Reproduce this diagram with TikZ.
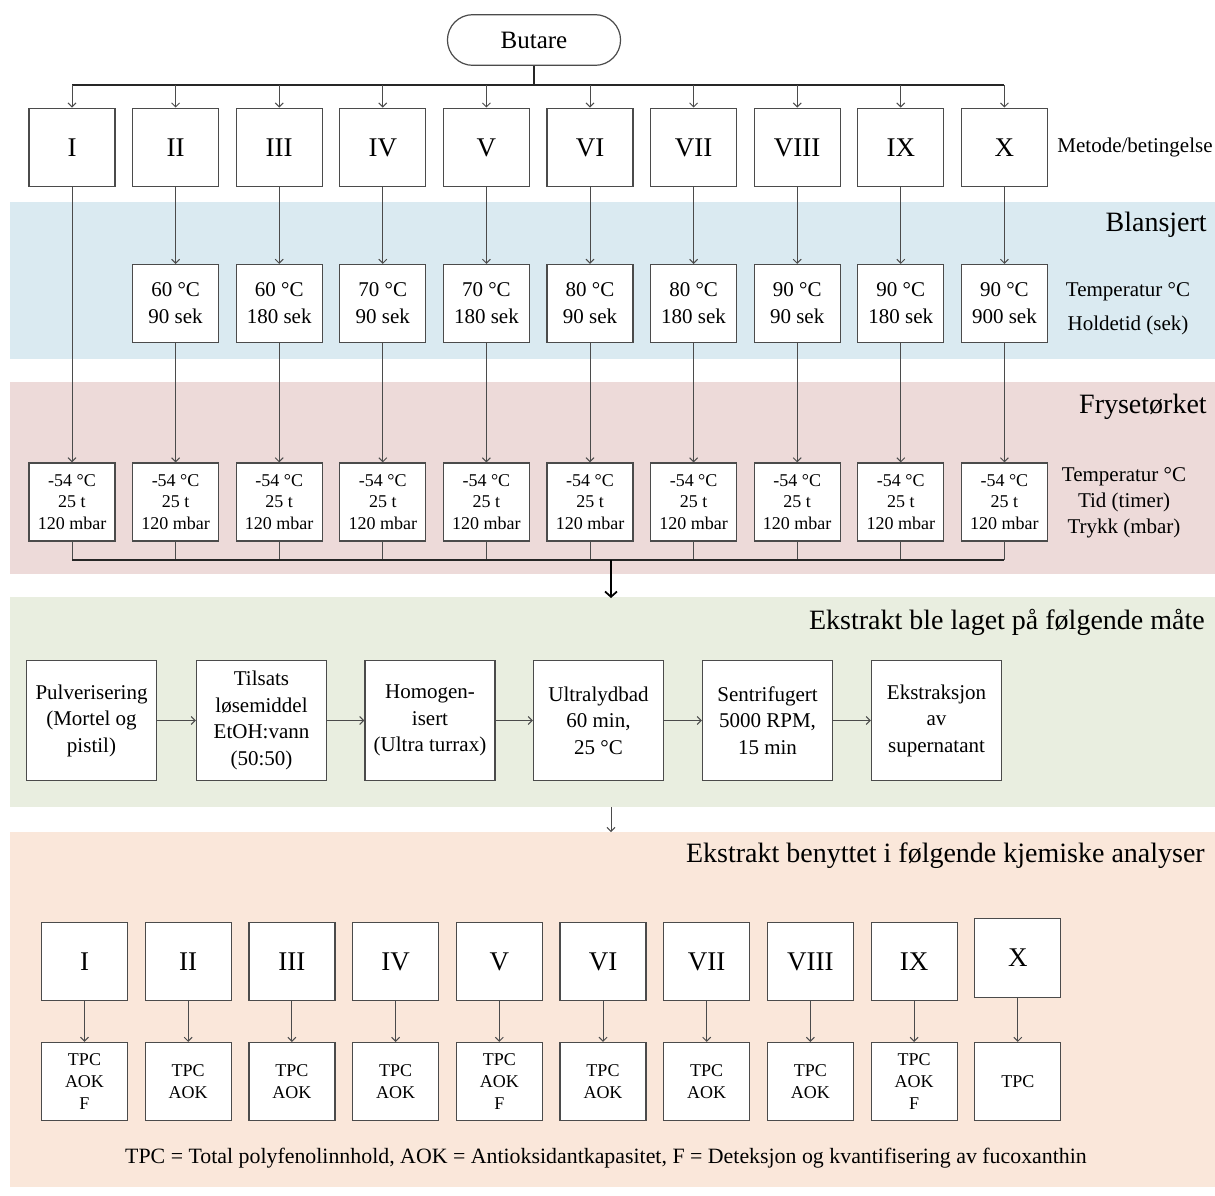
\documentclass[tikz,border=0pt]{standalone}
\usepackage{fontspec}
\setmainfont{Liberation Serif}
\usetikzlibrary{arrows.meta,shapes.misc}
\definecolor{lineg}{RGB}{75,75,75}
\definecolor{blueband}{RGB}{218,234,241}
\definecolor{pinkband}{RGB}{237,218,217}
\definecolor{greenband}{RGB}{233,238,224}
\definecolor{peachband}{RGB}{250,231,218}
\tikzset{
  bigbox/.style={draw=lineg, fill=white, line width=0.9pt, minimum width=64.5pt, minimum height=59pt, inner sep=0pt, align=center, font=\fontsize{20.25}{24}\selectfont},
  blbox/.style={draw=lineg, fill=white, line width=0.9pt, minimum width=64.5pt, minimum height=58.5pt, inner sep=0pt, align=center, font=\fontsize{15.75}{20.25}\selectfont},
  frbox/.style={draw=lineg, fill=white, line width=0.9pt, minimum width=64.5pt, minimum height=58.5pt, inner sep=0pt, align=center, font=\fontsize{13.5}{16.1}\selectfont},
  prbox/.style={draw=lineg, fill=white, line width=0.9pt, minimum width=97.5pt, minimum height=90.5pt, inner sep=0pt, align=center, font=\fontsize{15.75}{19.9}\selectfont},
  anbox/.style={draw=lineg, fill=white, line width=0.9pt, minimum width=64.5pt, minimum height=58.5pt, inner sep=0pt, align=center, font=\fontsize{13.5}{16.5}\selectfont},
  sectitle/.style={anchor=east, inner sep=0pt, font=\fontsize{21}{25}\selectfont},
  sidelab/.style={align=center, inner sep=0pt, font=\fontsize{15.75}{19.5}\selectfont},
  arr/.style={draw=lineg, line width=0.75pt, -{Straight Barb[length=3pt,width=6pt]}},
  conn/.style={draw=lineg, line width=0.75pt},
  bus/.style={draw=black!85, line width=1.1pt},
}
\begin{document}
\begin{tikzpicture}[x=0.75pt,y=-0.75pt]
\useasboundingbox (0,0) rectangle (1215,1196);
\fill[white] (0,0) rectangle (1215,1196);
% bands
\fill[blueband] (10,202) rectangle (1215,359);
\fill[pinkband] (10,382) rectangle (1215,574);
\fill[greenband] (10,597) rectangle (1215,807);
\fill[peachband] (10,832) rectangle (1215,1187);

% Butare
\node[draw=lineg, line width=0.9pt, rounded rectangle, minimum width=136.5pt, minimum height=38pt, font=\fontsize{18.75}{22}\selectfont] (but) at (534,40) {Butare};

% top boxes
\foreach \i/\r in {1/I,2/II,3/III,4/IV,5/V,6/VI,7/VII,8/VIII,9/IX,10/X}{
  \node[bigbox] (m\i) at ({72+103.6*(\i-1)},147.5) {\r};
}
\node[sidelab, font=\fontsize{15.75}{19}\selectfont] (metl) at (1135,147) {Metode/betingelse};

% blanch boxes
\foreach \i/\t/\s in {2/60/90,3/60/180,4/70/90,5/70/180,6/80/90,7/80/180,8/90/90,9/90/180,10/90/900}{
  \node[blbox] (b\i) at ({72+103.6*(\i-1)},303.5) {\t\ °C\\\s\ sek};
}
\node[sectitle] (blt) at (1207,225) {Blansjert};
\node[sidelab] (bll) at (1128,309) {Temperatur °C\\[6pt]Holdetid (sek)};

% freeze boxes
\foreach \i in {1,...,10}{
  \node[frbox] (f\i) at ({72+103.6*(\i-1)},502) {-54 °C\\25 t\\120 mbar};
}
\node[sectitle] (frt) at (1207,407) {Frysetørket};
\node[sidelab, font=\fontsize{15.75}{19.5}\selectfont] (frl) at (1124,503) {Temperatur °C\\Tid (timer)\\Trykk (mbar)};

% top bus
\coordinate (bt) at (534,85);
\draw[bus] (but.south) -- (bt);
\draw[bus] (m1.north |- bt) -- (m10.north |- bt);
\foreach \i in {1,...,10}{
  \draw[arr] (m\i.north |- bt) -- (m\i.north);
}
% verticals
\draw[arr] (m1.south) -- (f1.north);
\foreach \i in {2,...,10}{
  \draw[arr] (m\i.south) -- (b\i.north);
  \draw[arr] (b\i.south) -- (f\i.north);
}
% bottom bus
\coordinate (bb) at (611,560);
\foreach \i in {1,...,10}{
  \draw[conn] (f\i.south) -- (f\i.south |- bb);
}
\draw[bus] (f1.south |- bb) -- (f10.south |- bb);

% extraction section
\coordinate (gtop) at (611,598);
\draw[black, line width=1.3pt, -{Straight Barb[length=4pt,width=9pt]}] (bb) -- (gtop);
\node[sectitle] (ext) at (1205,622) {Ekstrakt ble laget på følgende måte};
\node[prbox] (p1) at (91.5,720.5) {Pulverisering\\(Mortel og\\pistil)};
\node[prbox] (p2) at (261.5,720.5) {Tilsats\\løsemiddel\\EtOH:vann\\(50:50)};
\node[prbox] (p3) at (430,720.5) {Homogen-\\isert\\(Ultra turrax)};
\node[prbox] (p4) at (598.5,720.5) {Ultralydbad\\60 min,\\25 °C};
\node[prbox] (p5) at (767.5,720.5) {Sentrifugert\\5000 RPM,\\15 min};
\node[prbox] (p6) at (936.5,720.5) {Ekstraksjon\\av\\supernatant};
\foreach \a/\b in {1/2,2/3,3/4,4/5,5/6}{
  \draw[arr] (p\a.east) -- (p\b.west);
}
\coordinate (gbot) at (611,807);
\coordinate (ptop) at (611,832);
\draw[arr] (gbot) -- (ptop);

% analyses
\node[sectitle] (ant) at (1205,856) {Ekstrakt benyttet i følgende kjemiske analyser};
\foreach \i/\r/\y in {1/I/961.5,2/II/961.5,3/III/961.5,4/IV/961.5,5/V/961.5,6/VI/961.5,7/VII/961.5,8/VIII/961.5,9/IX/961.5,10/X/958}{
  \node[bigbox] (a\i) at ({84.5+103.7*(\i-1)},\y) {\r};
}
\foreach \i/\t in {1/{TPC\\AOK\\F},2/{TPC\\AOK},3/{TPC\\AOK},4/{TPC\\AOK},5/{TPC\\AOK\\F},6/{TPC\\AOK},7/{TPC\\AOK},8/{TPC\\AOK},9/{TPC\\AOK\\F},10/{TPC}}{
  \node[anbox] (r\i) at ({84.5+103.7*(\i-1)},1081.5) {\t};
}
\foreach \i in {1,...,10}{
  \draw[arr] (a\i.south) -- (r\i.north);
}
\node[inner sep=0pt, font=\fontsize{16.4}{19}\selectfont] (foot) at (606,1158) {TPC = Total polyfenolinnhold, AOK = Antioksidantkapasitet, F = Deteksjon og kvantifisering av fucoxanthin};
\end{tikzpicture}
\end{document}
